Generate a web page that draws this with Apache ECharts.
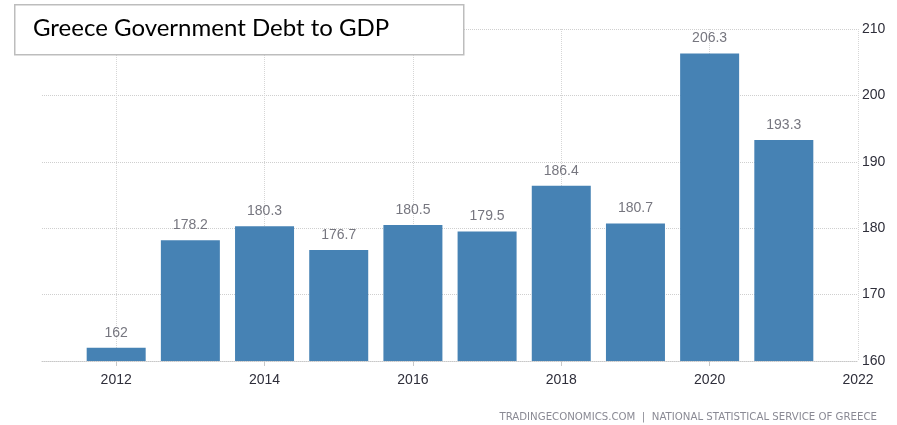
<!DOCTYPE html>
<html>
<head>
<meta charset="utf-8">
<script src="https://cdn.jsdelivr.net/npm/echarts@6/dist/echarts.min.js"></script>
<style>
html,body{margin:0;padding:0;background:#fff;}
#chart{width:897px;height:425px;}
</style>
</head>
<body>
<div id="chart"></div>
<script>
const titleText = 'Greece Government Debt to GDP';
const sourceText = 'TRADINGECONOMICS.COM  |  NATIONAL STATISTICAL SERVICE OF GREECE';
const years = [2012, 2013, 2014, 2015, 2016, 2017, 2018, 2019, 2020, 2021];
const debtToGdp = [162, 178.2, 180.3, 176.7, 180.5, 179.5, 186.4, 180.7, 206.3, 193.3];
const axisYears = [2011, 2012, 2013, 2014, 2015, 2016, 2017, 2018, 2019, 2020, 2021, 2022];
const labelYears = [2012, 2014, 2016, 2018, 2020, 2022];
const yTicks = [160, 170, 180, 190, 200, 210];

const cats = axisYears.map(String);
const seriesData = axisYears.map(y => {
  const i = years.indexOf(y);
  return i >= 0 ? debtToGdp[i] : '-';
});
const isLabelYear = (idx) => labelYears.indexOf(axisYears[idx]) >= 0;

const chart = echarts.init(document.getElementById('chart'));
chart.setOption({
  animation: false,
  grid: { left: 42, right: 39, top: 29, bottom: 64, containLabel: false },
  xAxis: {
    type: 'category',
    data: cats,
    boundaryGap: false,
    axisLine: { show: true, lineStyle: { color: '#c8c8c8', type: 'dotted', width: 1 } },
    axisTick: { show: true, length: 5, interval: (i) => isLabelYear(i) && axisYears[i] !== 2022, lineStyle: { color: '#c8c8c8' } },
    axisLabel: {
      interval: (i) => isLabelYear(i),
      color: '#2e2e3a', fontSize: 14, fontFamily: 'Liberation Sans, Arial, sans-serif', margin: 12
    },
    splitLine: { show: true, interval: (i) => isLabelYear(i), lineStyle: { color: '#d6d6d6', type: 'dotted' } }
  },
  yAxis: {
    type: 'value',
    position: 'right',
    min: yTicks[0], max: yTicks[yTicks.length - 1], interval: 10,
    axisLine: { show: false },
    axisTick: { show: false },
    axisLabel: { color: '#2e2e3a', fontSize: 14, fontFamily: 'Liberation Sans, Arial, sans-serif', margin: 4 },
    splitLine: { show: true, lineStyle: { color: '#cfcfcf', type: 'dotted' } }
  },
  series: [{
    type: 'bar',
    data: seriesData,
    barWidth: 59,
    itemStyle: { color: '#4682b4' },
    label: {
      show: true, position: 'top', distance: 8,
      color: '#76767f', fontSize: 14, fontFamily: 'Liberation Sans, Arial, sans-serif'
    }
  }],
  graphic: [
    {
      type: 'rect', left: 14, top: 4,
      shape: { width: 449, height: 50 },
      style: { fill: '#fff', stroke: '#bdbdbd', lineWidth: 1.5 },
      z: 100
    },
    {
      type: 'text', left: 33, top: 16,
      style: { text: titleText, fill: '#000', font: '24px Lato, "Open Sans", sans-serif' },
      z: 101
    },
    {
      type: 'text', right: 20, top: 412,
      style: { text: sourceText, fill: '#8a8a94', font: '10.2px "DejaVu Sans", sans-serif' },
      z: 101
    }
  ]
});
</script>
</body>
</html>
